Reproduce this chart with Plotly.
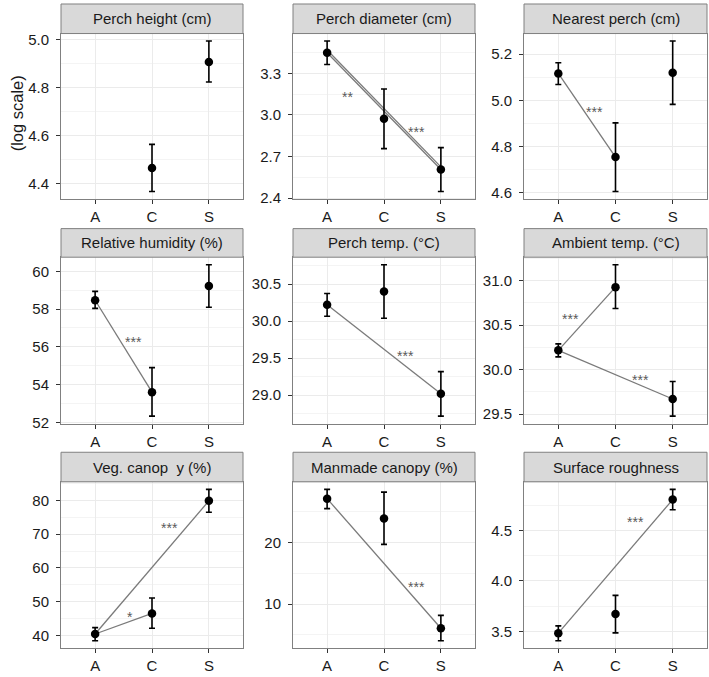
import plotly.graph_objects as go

# ---------------- data ----------------
categories = ["A", "C", "S"]

panel_titles = [
    "Perch height (cm)", "Perch diameter (cm)", "Nearest perch (cm)",
    "Relative humidity (%)", "Perch temp. (°C)", "Ambient temp. (°C)",
    "Veg. canop\u00a0\u00a0y (%)", "Manmade canopy (%)", "Surface roughness",
]

perch_height_mean = [None, 4.466, 4.906]
perch_height_lo = [None, 4.368, 4.823]
perch_height_hi = [None, 4.564, 4.993]

perch_diameter_mean = [3.449, 2.972, 2.606]
perch_diameter_lo = [3.364, 2.757, 2.447]
perch_diameter_hi = [3.533, 3.187, 2.764]

nearest_perch_mean = [5.117, 4.755, 5.120]
nearest_perch_lo = [5.069, 4.606, 4.983]
nearest_perch_hi = [5.163, 4.903, 5.257]

humidity_mean = [58.47, 53.60, 59.22]
humidity_lo = [58.04, 52.33, 58.10]
humidity_hi = [58.94, 54.90, 60.35]

perch_temp_mean = [30.222, 30.400, 29.017]
perch_temp_lo = [30.067, 30.040, 28.715]
perch_temp_hi = [30.375, 30.763, 29.317]

ambient_temp_mean = [30.217, 30.926, 29.671]
ambient_temp_lo = [30.144, 30.686, 29.479]
ambient_temp_hi = [30.290, 31.177, 29.867]

veg_canopy_mean = [40.4, 46.5, 79.9]
veg_canopy_lo = [38.4, 42.1, 76.5]
veg_canopy_hi = [42.3, 51.1, 83.3]

manmade_canopy_mean = [27.16, 23.95, 6.10]
manmade_canopy_lo = [25.55, 19.73, 4.06]
manmade_canopy_hi = [28.67, 28.23, 8.19]

roughness_mean = [3.483, 3.672, 4.806]
roughness_lo = [3.408, 3.486, 4.705]
roughness_hi = [3.555, 3.857, 4.907]

# major y ticks per panel
ticks_perch_height = [4.4, 4.6, 4.8, 5.0]
ticks_perch_diameter = [2.4, 2.7, 3.0, 3.3]
ticks_nearest_perch = [4.6, 4.8, 5.0, 5.2]
ticks_humidity = [52, 54, 56, 58, 60]
ticks_perch_temp = [29.0, 29.5, 30.0, 30.5]
ticks_ambient_temp = [29.5, 30.0, 30.5, 31.0]
ticks_veg_canopy = [40, 50, 60, 70, 80]
ticks_manmade_canopy = [10, 20]
ticks_roughness = [3.5, 4.0, 4.5]
tick_decimals = [1, 1, 1, 0, 1, 1, 0, 0, 1]

# significance links (category pairs) and star labels (text, x, y)
links_perch_height = []
links_perch_diameter = [("A", "S"), ("A", "S")]
links_nearest_perch = [("A", "C")]
links_humidity = [("A", "C")]
links_perch_temp = [("A", "S")]
links_ambient_temp = [("A", "C"), ("A", "S")]
links_veg_canopy = [("A", "C"), ("A", "S")]
links_manmade_canopy = [("A", "S")]
links_roughness = [("A", "S")]

stars_perch_height = []
stars_perch_diameter = [("**", 1.35, 3.137), ("***", 2.57, 2.885)]
stars_nearest_perch = [("***", 1.64, 4.956)]
stars_humidity = [("***", 1.67, 56.33)]
stars_perch_temp = [("***", 2.37, 29.546)]
stars_ambient_temp = [("***", 1.21, 30.58), ("***", 2.44, 29.90)]
stars_veg_canopy = [("*", 1.61, 45.6), ("***", 2.30, 72.1)]
stars_manmade_canopy = [("***", 2.58, 12.9)]
stars_roughness = [("***", 2.35, 4.59)]

panels = [
    (perch_height_mean, perch_height_lo, perch_height_hi, ticks_perch_height, links_perch_height, stars_perch_height),
    (perch_diameter_mean, perch_diameter_lo, perch_diameter_hi, ticks_perch_diameter, links_perch_diameter, stars_perch_diameter),
    (nearest_perch_mean, nearest_perch_lo, nearest_perch_hi, ticks_nearest_perch, links_nearest_perch, stars_nearest_perch),
    (humidity_mean, humidity_lo, humidity_hi, ticks_humidity, links_humidity, stars_humidity),
    (perch_temp_mean, perch_temp_lo, perch_temp_hi, ticks_perch_temp, links_perch_temp, stars_perch_temp),
    (ambient_temp_mean, ambient_temp_lo, ambient_temp_hi, ticks_ambient_temp, links_ambient_temp, stars_ambient_temp),
    (veg_canopy_mean, veg_canopy_lo, veg_canopy_hi, ticks_veg_canopy, links_veg_canopy, stars_veg_canopy),
    (manmade_canopy_mean, manmade_canopy_lo, manmade_canopy_hi, ticks_manmade_canopy, links_manmade_canopy, stars_manmade_canopy),
    (roughness_mean, roughness_lo, roughness_hi, ticks_roughness, links_roughness, stars_roughness),
]

# ---------------- layout geometry (pixels) ----------------
W, H = 709, 677
col_left = [61, 293, 524]
col_right = [243, 475, 707]
row_top = [31, 258, 486]
row_bottom = [199, 427, 655]
strip_top = [1, 229, 456]

FONT = "Liberation Sans, Arial, Helvetica, sans-serif"
TEXT = "#1a1a1a"
BORDER = "#808080"
GRID_MAJOR = "#EBEBEB"
GRID_MINOR = "#F4F4F4"

xpos = {c: i + 1 for i, c in enumerate(categories)}

fig = go.Figure()
layout = dict(
    width=W, height=H, margin=dict(l=0, r=0, t=0, b=0),
    paper_bgcolor="white", plot_bgcolor="white", showlegend=False,
    font=dict(family=FONT, color=TEXT),
)
shapes = []
annotations = []

for i, (mean, lo, hi, ticks, links, stars) in enumerate(panels):
    r, c = divmod(i, 3)
    k = i + 1
    xa = "x" if k == 1 else f"x{k}"
    ya = "y" if k == 1 else f"y{k}"
    xkey = "xaxis" if k == 1 else f"xaxis{k}"
    ykey = "yaxis" if k == 1 else f"yaxis{k}"

    xs = [xpos[cat] for cat in categories]
    vals_lo = [v for v in lo if v is not None]
    vals_hi = [v for v in hi if v is not None]
    ymin, ymax = min(vals_lo), max(vals_hi)
    pad = 0.05 * (ymax - ymin)
    yr = [ymin - pad, ymax + pad]

    # significance links
    for j, (a, b) in enumerate(links):
        off = 0.016 * (yr[1] - yr[0]) if (a, b) in links[:j] else 0.0
        ia, ib = categories.index(a), categories.index(b)
        fig.add_trace(go.Scatter(
            x=[xpos[a], xpos[b]], y=[mean[ia] + off, mean[ib] + off],
            mode="lines", line=dict(color="#7a7a7a", width=1.3),
            xaxis=xa, yaxis=ya, hoverinfo="skip",
        ))

    # points + error bars
    err_plus = [None if m is None else h - m for m, h in zip(mean, hi)]
    err_minus = [None if m is None else m - l for m, l in zip(mean, lo)]
    fig.add_trace(go.Scatter(
        x=xs, y=mean, mode="markers",
        marker=dict(color="black", size=8.5),
        error_y=dict(type="data", array=err_plus, arrayminus=err_minus,
                     color="black", thickness=1.6, width=3, symmetric=False),
        xaxis=xa, yaxis=ya,
    ))

    for (txt, sx, sy) in stars:
        annotations.append(dict(
            text=txt, x=sx, y=sy, xref=xa, yref=ya, showarrow=False,
            font=dict(size=14, color="#5a5a5a", family=FONT), yshift=-1,
        ))

    step = ticks[1] - ticks[0]
    minor = [t - step / 2 for t in ticks] + [ticks[-1] + step / 2]
    minor = [m for m in minor if yr[0] < m < yr[1]]
    fmt = "{:.%df}" % tick_decimals[i]

    layout[xkey] = dict(
        domain=[col_left[c] / W, col_right[c] / W], anchor=ya,
        range=[0.4, 3.6], tickvals=xs, ticktext=categories,
        showgrid=True, gridcolor=GRID_MAJOR, gridwidth=1,
        showline=True, mirror=True, linecolor=BORDER, linewidth=1,
        ticks="outside", ticklen=4, tickcolor="#333333", tickwidth=1,
        tickfont=dict(size=15, color=TEXT, family=FONT), zeroline=False,
    )
    layout[ykey] = dict(
        domain=[1 - row_bottom[r] / H, 1 - row_top[r] / H], anchor=xa,
        range=yr, tickvals=ticks, ticktext=[fmt.format(t) for t in ticks],
        showgrid=True, gridcolor=GRID_MAJOR, gridwidth=1,
        minor=dict(tickvals=minor, showgrid=True, gridcolor=GRID_MINOR, gridwidth=1, ticks=""),
        showline=True, mirror=True, linecolor=BORDER, linewidth=1,
        ticks="outside", ticklen=4, tickcolor="#333333", tickwidth=1,
        tickfont=dict(size=15, color=TEXT, family=FONT), zeroline=False,
        ticklabelstandoff=4,
    )

    # strip
    shapes.append(dict(
        type="rect", xref="paper", yref="paper",
        x0=col_left[c] / W, x1=col_right[c] / W,
        y0=1 - row_top[r] / H, y1=1 - strip_top[r] / H,
        fillcolor="#D9D9D9", line=dict(color=BORDER, width=1), layer="above",
    ))
    annotations.append(dict(
        text=panel_titles[i], xref="paper", yref="paper",
        x=(col_left[c] + col_right[c]) / 2 / W,
        y=1 - (row_top[r] + strip_top[r]) / 2 / H,
        showarrow=False, xanchor="center", yanchor="middle",
        font=dict(size=15, color=TEXT, family=FONT),
    ))

annotations.append(dict(
    text="(log scale)", xref="paper", yref="paper", x=17 / W, y=1 - 112 / H,
    showarrow=False, textangle=-90, xanchor="center", yanchor="middle",
    font=dict(size=16.5, color=TEXT, family=FONT),
))

layout["shapes"] = shapes
layout["annotations"] = annotations
fig.update_layout(**layout)
fig.write_html(
    "out.html",
    config={"displayModeBar": False},
    post_script="document.body.style.margin='0';document.body.style.padding='0';",
)
